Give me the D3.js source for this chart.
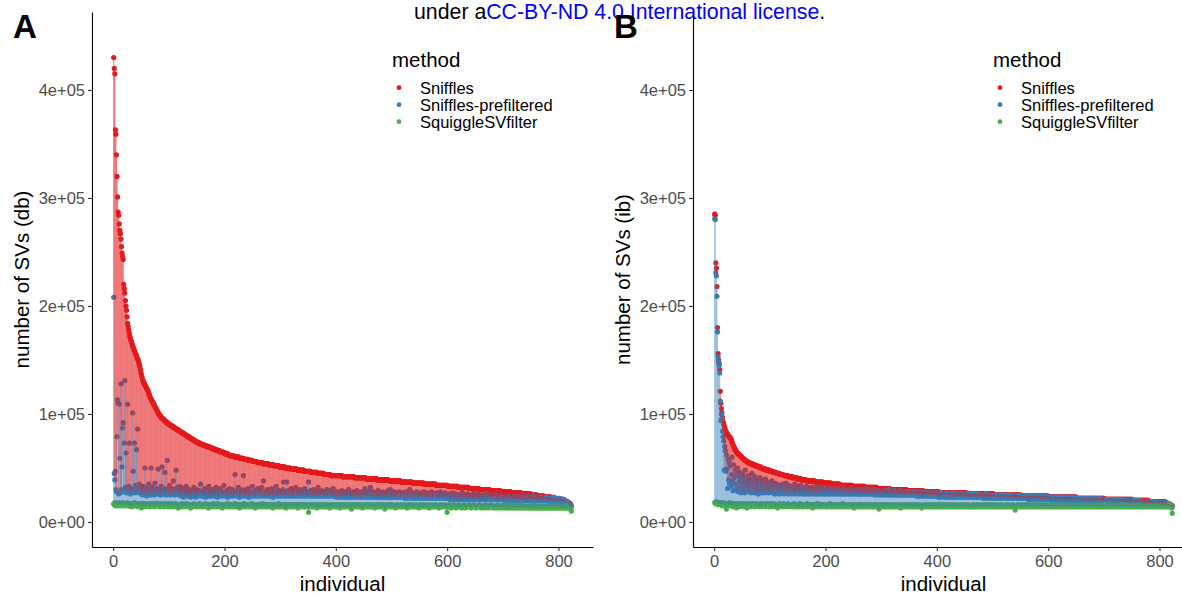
<!DOCTYPE html>
<html>
<head>
<meta charset="utf-8">
<script src="https://cdn.jsdelivr.net/npm/d3@7"></script>
<style>
  body { margin: 0; background: #fff; }
  svg { display: block; }
  text { font-family: "Liberation Sans", Arial, Helvetica, sans-serif; }
</style>
</head>
<body>
<svg id="chart" width="1182" height="597"></svg>
<script>
// ************************************************************************************************** //
// Data (number of SVs per individual, in thousands; individual = position in the array, starting at 1)

var methods = ['Sniffles', 'Sniffles-prefiltered', 'SquiggleSVfilter'];
var methodColors = ['#E41A1C', '#377EB8', '#4DAF4A'];
var yTicks = [0, 100000, 200000, 300000, 400000];
var yTickLabels = ['0e+00', '1e+05', '2e+05', '3e+05', '4e+05'];
var xTicks = [0, 200, 400, 600, 800];

// panel A (db)
var snifflesDb = [
430,420,415,363,359,340,320,301,287,284,276,270,267,262,255,249,246,243,220,216,
212,205,200,196,190,184,181,178,175,172,170,168,167,165,163,162,160,159,158,156,
155,154,152,151,150,148,146,144,141,138,136,134,132,130,129,128,127,126,125,124,
123,122,121,119,118,116,115,114,113,112,111,110,109,108,107,106,105,104,103,102,
101,100,99,99,98,97,97,96,96,95,95,94,94,93,93,92,92,91,91,91,
90,90,90,89,89,89,88,88,88,87,87,87,86,86,86,85,85,85,84,84,
84,83,83,83,82,82,82,81,81,81,80,80,80,79,79,79,78,78,78,77,
77,77,76,76,76,75,75,75,74,74,74,74,73,73,73,73,72,72,72,72,
72,71,71,71,71,71,70,70,70,70,70,69,69,69,69,69,68,68,68,68,
68,67,67,67,67,67,66,66,66,66,66,65,65,65,65,65,64,64,64,64,
64,63,63,63,63,63,62,62,62,62,61,61,61,61,61,61,61,61,60,60,
60,60,60,60,60,60,59,59,59,59,59,59,59,59,58,58,58,58,58,58,
58,58,57,57,57,57,57,57,57,57,56,56,56,56,56,56,56,56,55,55,
55,55,55,55,55,55,55,55,54,54,54,54,54,54,54,54,54,54,53,53,
53,53,53,53,53,53,53,53,52,52,52,52,52,52,52,52,52,52,51,51,
51,51,51,51,51,51,51,51,50,50,50,50,50,50,50,50,50,50,49,49,
49,49,49,49,49,49,49,49,49,49,48,48,48,48,48,48,48,48,48,48,
48,48,47,47,47,47,47,47,47,47,47,47,47,47,46,46,46,46,46,46,
46,46,46,46,46,46,45,45,45,45,45,45,45,45,45,45,45,45,44,44,
44,44,44,44,44,44,44,44,44,44,43,43,43,43,43,43,43,43,43,43,
43,43,43,43,43,43,43,43,43,43,43,42,42,42,42,42,42,42,42,42,
42,42,42,42,42,42,42,42,42,42,42,42,41,41,41,41,41,41,41,41,
41,41,41,41,41,41,41,41,41,41,41,41,41,40,40,40,40,40,40,40,
40,40,40,40,40,40,40,40,40,40,40,40,40,40,39,39,39,39,39,39,
39,39,39,39,39,39,39,39,39,39,39,39,39,39,39,38,38,38,38,38,
38,38,38,38,38,38,38,38,38,38,38,38,38,38,38,38,37,37,37,37,
37,37,37,37,37,37,37,37,37,37,37,37,37,37,37,37,37,36,36,36,
36,36,36,36,36,36,36,36,36,36,36,36,36,36,36,36,36,36,35,35,
35,35,35,35,35,35,35,35,35,35,35,35,35,35,35,35,35,35,35,34,
34,34,34,34,34,34,34,34,34,34,34,34,34,34,34,34,34,34,34,34,
33,33,33,33,33,33,33,33,33,33,33,33,33,33,33,33,33,33,33,32,
32,32,32,32,32,32,32,32,32,32,32,32,32,32,32,32,32,32,31,31,
31,31,31,31,31,31,31,31,31,31,31,31,31,31,31,31,31,30,30,30,
30,30,30,30,30,30,30,30,30,30,30,30,30,30,30,30,29,29,29,29,
29,29,29,29,29,29,29,29,29,29,29,29,29,29,29,28,28,28,28,28,
28,28,28,28,28,28,28,28,28,28,28,28,28,28,27,27,27,27,27,27,
27,27,27,27,27,27,27,27,27,27,27,27,27,26,26,26,26,26,26,26,
26,26,26,26,26,26,26,26,26,26,25,25,25,25,25,25,25,25,25,25,
25,25,24,24,24,24,24,24,24,24,24,24,24,24,23,23,23,23,23,23,
23,23,23,23,23,23,22,22,22,22,22,22,22,22,22,22,22,21,21,21,
21,21,21,21,21,21,21,21,21,20,20,20,19,19,19,19,18,18,18,17,
17,16,15
];
var prefilteredDb = [
208,45,39,47,30,28,79,113,110,26,109,59,27,128,30,51,87,92,28,73,
131,32,64,27,30,109,29,33,73,28,26,31,29,27,101,47,30,73,28,34,
27,67,29,86,31,28,35,27,30,26,27,29,25,33,28,26,50,30,27,24,
31,26,28,35,27,29,25,50,28,32,26,30,27,25,36,28,26,31,29,27,
49,26,30,28,25,33,27,51,29,26,28,31,46,27,25,29,57,30,26,28,
34,27,25,29,31,26,28,38,27,30,25,29,48,27,32,26,28,30,25,33,
26,24,29,27,25,31,23,26,28,24,33,26,25,27,24,30,26,28,23,27,
25,29,26,24,32,27,25,23,28,26,30,24,27,25,29,26,35,24,27,25,
28,24,26,31,25,23,27,26,29,24,25,33,26,24,28,25,27,30,24,26,
25,28,24,27,32,26,23,25,29,26,24,27,31,25,26,24,28,25,34,26,
24,27,25,29,26,23,28,25,31,24,26,27,25,30,24,26,28,25,44,27,
25,24,29,26,32,25,23,27,26,28,24,25,30,43,26,24,27,25,29,24,
26,31,25,23,27,26,24,28,25,33,26,24,27,25,29,24,26,28,25,31,
24,26,27,25,29,24,32,26,25,38,24,27,25,28,24,26,30,25,24,27,
25,29,24,26,31,25,23,27,26,24,28,25,33,24,26,25,29,24,27,25,
24,28,25,26,30,37,24,25,27,24,26,37,25,29,24,26,28,25,24,31,
25,24,27,26,24,29,25,32,24,26,25,28,24,27,25,30,24,26,25,28,
24,27,25,31,24,26,24,28,25,27,37,24,26,25,29,24,27,25,24,30,
25,24,27,26,24,28,25,32,24,26,24,27,25,29,24,26,25,28,24,25,
27,24,26,30,24,25,28,24,26,25,29,24,27,25,31,24,26,25,28,24,
23,26,24,28,23,25,24,27,23,25,29,24,23,26,24,28,23,25,24,27,
23,25,30,24,23,26,24,23,27,25,24,28,23,25,24,26,23,29,24,25,
23,27,24,25,23,28,24,23,26,24,25,31,23,24,27,23,25,24,28,23,
25,32,24,23,26,24,28,23,25,24,27,23,24,26,23,29,24,23,25,27,
23,24,26,23,28,24,23,25,27,23,24,26,23,29,24,23,25,30,23,24,
26,23,24,28,23,25,23,27,24,23,26,23,25,28,23,24,23,26,24,27,
23,24,26,22,25,28,23,24,22,26,23,25,30,23,22,24,27,23,25,22,
24,26,22,23,28,24,22,25,23,27,22,24,23,26,22,25,23,28,22,24,
23,25,22,27,23,24,22,26,23,22,25,28,22,23,24,22,26,23,25,22,
24,27,22,23,25,22,24,28,22,23,26,22,24,23,22,27,23,22,25,23,
22,24,26,21,23,22,25,21,23,27,22,21,24,22,23,26,21,22,24,23,
21,25,22,23,21,24,28,22,21,23,22,25,21,24,22,21,26,22,23,21,
24,22,21,25,23,21,22,27,21,23,22,24,21,22,26,21,23,22,21,24,
22,21,25,22,23,21,24,22,21,27,22,21,23,22,24,21,22,25,21,23,
21,22,24,21,23,21,26,22,21,23,21,22,25,21,22,21,24,22,21,23,
21,20,22,24,21,22,20,23,21,25,20,22,21,23,20,21,24,20,22,21,
20,23,21,22,20,24,21,20,22,21,23,20,21,25,20,22,21,20,23,21,
20,22,21,24,20,21,22,20,23,21,20,22,20,21,24,20,21,22,20,21,
23,20,21,20,22,20,21,23,20,22,20,21,20,22,21,20,23,20,21,20,
22,20,21,19,20,22,20,21,19,20,23,20,19,21,20,22,19,20,21,19,
20,22,19,20,19,21,20,19,20,19,20,19,19,18,18,19,18,17,17,16,
15,15,14
];
var squiggleDb = [
17,16,18,15,17,16,17,15,16,18,16,17,15,16,17,16,18,15,17,16,
16,17,15,16,18,16,15,17,16,17,15,16,14,17,16,15,17,16,18,15,
16,17,15,16,14,17,16,15,16,17,13,16,15,17,16,15,16,14,17,16,
15,16,17,15,16,14,16,17,15,16,15,17,16,14,16,15,17,16,15,16,
17,15,16,14,16,15,17,16,15,16,14,16,17,15,16,15,16,14,17,15,
16,15,14,16,17,15,16,14,15,16,15,17,14,16,15,16,13,15,16,15,
14,16,15,17,15,14,16,15,16,14,15,17,15,16,14,15,16,15,13,16,
15,16,14,15,17,15,16,14,15,16,15,14,16,15,17,14,15,16,15,14,
16,15,14,16,15,17,15,14,16,15,13,16,15,14,16,15,16,14,15,17,
15,14,16,15,16,14,15,17,15,14,16,15,14,16,15,13,16,15,14,16,
15,16,14,15,17,15,14,16,15,14,16,15,16,14,15,16,14,15,17,15,
14,16,15,14,16,15,13,15,16,14,15,16,14,15,17,14,15,16,15,14,
16,15,14,16,15,14,16,15,17,14,15,16,14,15,13,16,15,14,16,15,
14,16,15,14,16,15,14,17,15,14,16,15,14,15,16,14,15,16,14,15,
16,14,15,16,14,15,13,16,15,14,16,15,14,16,15,14,17,15,14,16,
15,14,16,15,14,15,16,14,15,13,16,15,14,16,15,14,15,16,14,15,
16,14,15,14,16,15,14,16,15,14,15,13,16,15,14,16,15,14,15,16,
14,15,16,14,15,14,16,15,14,15,9,15,14,16,15,14,15,14,16,15,
14,15,16,14,15,13,15,16,14,15,14,16,15,14,15,14,16,15,14,15,
16,14,15,14,16,15,14,15,13,16,15,14,15,14,16,15,14,15,16,14,
15,14,16,15,14,15,13,15,16,14,15,14,16,15,14,15,14,16,15,14,
15,14,15,16,14,15,14,12,15,16,14,15,14,15,16,14,15,14,15,16,
14,15,14,16,15,14,15,13,15,14,16,15,14,15,14,16,15,14,15,14,
16,15,14,15,14,16,15,14,15,13,15,14,16,15,14,15,14,15,16,14,
15,14,15,16,14,15,14,12,15,14,16,15,14,15,14,15,16,14,15,14,
15,16,14,15,14,15,13,15,14,16,15,14,15,14,15,16,14,15,14,15,
14,15,16,14,15,14,15,13,14,15,16,14,15,14,15,14,16,15,14,15,
14,15,14,16,15,14,15,14,13,15,14,16,15,14,15,14,15,16,14,15,
14,15,14,15,16,14,15,13,14,15,14,16,15,14,15,14,15,14,16,15,
14,15,14,15,13,15,14,16,15,14,15,14,15,14,16,15,14,15,14,9,
14,15,14,16,15,14,13,15,14,15,14,16,15,14,15,13,14,15,14,15,
16,14,15,14,15,13,14,15,14,16,15,14,13,15,14,15,14,15,16,14,
15,14,13,15,14,15,14,16,15,14,15,13,14,15,14,15,14,16,15,14,
13,15,14,15,14,15,13,14,16,15,14,15,14,13,15,14,15,14,16,14,
15,14,13,15,14,15,14,13,15,14,16,14,15,13,14,15,14,15,13,14,
15,14,16,13,14,15,14,13,15,14,15,13,14,15,14,16,13,14,15,14,
13,15,14,13,15,14,15,13,14,15,13,14,16,14,13,15,14,13,15,14,
14,13,15,14,13,15,14,13,14,15,13,14,15,13,14,16,13,14,15,13,
14,15,13,14,13,15,14,13,14,15,13,14,13,15,14,13,14,15,13,14,
13,15,14,13,14,13,15,14,13,14,15,13,14,13,15,14,13,14,13,15,
14,13,14,15,13,14,13,14,15,13,14,13,14,13,15,14,13,14,13,14,
13,12,10
];

// panel B (ib)
var snifflesIb = [
285,284,240,235,218,180,156,150,147,141,121,110,105,101,97,93,91,89,87,85,
84,83,82,81,80,80,79,78,78,77,76,74,73,71,70,69,68,67,66,65,
64,64,63,63,62,62,61,61,60,60,59,59,58,58,57,57,57,56,56,56,
55,55,55,55,54,54,54,54,53,53,53,53,53,52,52,52,52,52,51,51,
51,51,51,50,50,50,50,49,49,49,49,49,49,48,48,48,48,48,48,47,
47,47,47,47,47,46,46,46,46,46,46,45,45,45,45,45,45,44,44,44,
44,44,44,44,43,43,43,43,43,43,43,43,42,42,42,42,42,42,42,42,
41,41,41,41,41,41,41,41,40,40,40,40,40,40,40,40,39,39,39,39,
39,39,39,39,39,38,38,38,38,38,38,38,38,38,38,38,38,38,38,38,
37,37,37,37,37,37,37,37,37,37,37,37,37,37,37,36,36,36,36,36,
36,36,36,36,36,36,36,36,36,36,35,35,35,35,35,35,35,35,35,35,
35,35,35,35,35,34,34,34,34,34,34,34,34,34,34,34,34,34,34,34,
34,34,34,34,34,34,34,33,33,33,33,33,33,33,33,33,33,33,33,33,
33,33,33,33,33,33,33,33,33,33,32,32,32,32,32,32,32,32,32,32,
32,32,32,32,32,32,32,32,32,32,32,32,31,31,31,31,31,31,31,31,
31,31,31,31,31,31,31,31,31,31,31,31,31,31,31,30,30,30,30,30,
30,30,30,30,30,30,30,30,30,30,30,30,30,30,30,30,30,30,30,30,
30,30,30,30,30,29,29,29,29,29,29,29,29,29,29,29,29,29,29,29,
29,29,29,29,29,29,29,29,29,29,29,29,29,29,29,28,28,28,28,28,
28,28,28,28,28,28,28,28,28,28,28,28,28,28,28,28,28,28,28,28,
28,28,28,28,27,27,27,27,27,27,27,27,27,27,27,27,27,27,27,27,
27,27,27,27,27,27,27,27,27,27,27,27,27,27,27,27,27,27,27,27,
27,27,27,27,27,27,27,27,27,27,27,27,27,26,26,26,26,26,26,26,
26,26,26,26,26,26,26,26,26,26,26,26,26,26,26,26,26,26,26,26,
26,26,26,26,26,26,26,26,26,26,26,26,26,26,26,26,26,26,26,26,
26,26,25,25,25,25,25,25,25,25,25,25,25,25,25,25,25,25,25,25,
25,25,25,25,25,25,25,25,25,25,25,25,25,25,25,25,25,25,25,25,
25,25,25,25,25,25,25,25,25,25,25,24,24,24,24,24,24,24,24,24,
24,24,24,24,24,24,24,24,24,24,24,24,24,24,24,24,24,24,24,24,
24,24,24,24,24,24,24,24,24,24,24,24,24,24,24,24,24,24,24,24,
23,23,23,23,23,23,23,23,23,23,23,23,23,23,23,23,23,23,23,23,
23,23,23,23,23,23,23,23,23,23,23,23,23,23,23,23,23,23,23,23,
23,23,23,23,23,23,23,23,23,23,22,22,22,22,22,22,22,22,22,22,
22,22,22,22,22,22,22,22,22,22,22,22,22,22,22,22,22,22,22,22,
22,22,22,22,22,22,22,22,22,22,22,22,22,22,22,22,22,22,22,22,
21,21,21,21,21,21,21,21,21,21,21,21,21,21,21,21,21,21,21,21,
21,21,21,21,21,21,21,21,21,21,21,21,21,21,21,21,21,21,21,21,
21,21,21,21,21,21,21,21,21,21,20,20,20,20,20,20,20,20,20,20,
20,20,20,20,20,20,20,20,20,20,20,20,20,20,20,20,20,20,20,20,
19,19,19,19,19,19,19,19,19,19,19,19,19,19,19,19,19,19,19,19,
19,19,19,19,19,19,19,19,19,19,18,18,18,17,17,17,17,16,16,16,
15,15,15
];
var prefilteredIb = [
281,280,231,228,209,176,153,148,145,138,112,94,100,96,84,79,75,48,70,66,
47,62,49,31,58,39,55,36,52,33,44,60,38,29,53,41,35,48,30,45,
34,50,28,42,37,31,46,27,39,33,44,29,36,41,27,48,32,38,30,35,
43,28,36,31,40,27,34,45,29,33,38,27,42,31,35,28,39,30,26,37,
32,41,28,35,30,27,38,33,29,36,27,40,31,28,34,30,37,27,32,29,
35,28,31,38,27,33,29,36,26,32,30,28,35,27,31,34,26,29,33,28,
31,27,35,29,26,33,28,30,36,27,29,32,26,34,28,30,27,33,29,26,
32,28,30,27,35,29,26,31,28,33,27,30,26,29,34,27,28,31,26,30,
28,32,26,29,27,33,28,26,30,27,31,26,29,28,32,26,27,30,28,26,
31,27,29,26,33,28,26,30,27,28,32,26,29,27,31,26,28,30,26,29,
27,31,26,28,30,26,29,27,32,26,28,27,30,26,29,31,26,28,27,30,
26,29,27,31,26,28,30,26,27,29,26,32,28,26,27,30,26,29,28,26,
30,27,26,29,26,31,28,26,27,30,26,28,27,29,26,31,27,26,28,26,
29,26,27,30,26,28,26,29,27,26,31,26,28,27,26,30,26,27,29,26,
27,30,26,28,26,27,29,25,26,30,27,26,28,25,29,26,27,25,28,26,
25,28,26,27,25,29,26,25,28,26,27,25,30,26,25,27,26,28,25,26,
27,25,26,29,25,27,26,25,28,25,26,27,25,29,26,25,27,25,26,28,
25,26,27,25,28,25,26,25,27,25,28,26,25,27,25,26,25,28,25,26,
27,25,24,26,28,25,24,26,25,27,24,25,28,24,26,25,24,27,25,24,
26,25,27,24,25,26,24,27,25,24,26,25,24,27,25,24,26,24,25,27,
24,25,23,26,24,25,27,23,24,26,24,25,23,26,24,25,27,23,24,25,
26,23,24,25,23,26,24,23,25,27,23,24,25,23,26,24,23,25,24,26,
23,24,26,23,25,24,23,26,24,23,25,24,26,23,24,25,23,24,26,23,
24,25,23,24,26,23,24,25,23,24,25,23,26,24,23,24,25,23,24,23,
25,23,24,22,25,23,24,26,23,22,24,25,23,24,22,25,23,24,23,25,
22,24,23,22,25,23,24,22,23,25,22,24,23,22,24,23,25,22,23,24,
22,23,25,22,24,23,22,24,23,22,25,23,22,24,23,22,23,24,22,23,
24,22,23,22,24,23,22,25,22,23,22,24,23,22,23,24,22,23,22,24,
22,23,21,24,22,23,22,21,23,22,24,22,21,23,22,23,21,22,24,22,
23,21,22,23,22,21,24,22,23,21,22,23,22,21,23,22,24,21,22,23,
21,22,23,21,22,20,23,22,21,22,23,21,20,22,21,23,22,21,20,22,
23,21,22,20,21,23,22,21,20,22,21,23,21,20,22,21,22,20,21,23,
21,20,22,21,23,20,21,22,20,21,22,20,21,22,20,21,20,22,21,20,
21,22,20,21,20,22,21,20,19,21,22,20,21,20,19,21,22,20,21,20,
19,21,20,22,20,19,21,20,21,19,20,22,20,19,21,20,19,21,20,19,
20,21,19,20,19,21,20,19,20,21,19,20,19,21,20,19,20,19,21,20,
19,20,18,20,19,21,19,20,18,19,20,19,21,19,18,20,19,20,18,19,
20,19,18,20,19,18,19,20,18,19,18,19,20,18,19,18,19,20,18,19,
18,19,18,20,18,19,18,17,19,18,19,18,17,19,18,19,17,18,19,18,
17,18,19,17,18,17,18,19,17,18,17,18,17,19,18,17,18,17,18,17,
18,17,18,17,16,18,17,18,17,16,17,18,17,16,17,16,17,16,15,16,
15,14,14
];
var squiggleIb = [
18,17,19,18,17,18,16,17,18,17,16,18,17,15,16,17,18,16,15,17,
16,12,17,16,15,17,16,18,15,16,17,15,16,14,17,16,15,16,17,13,
16,17,15,16,14,16,17,15,16,15,17,16,14,16,15,17,16,15,13,16,
15,16,17,15,16,14,16,15,17,16,15,16,14,15,17,16,15,16,15,14,
16,15,17,16,14,15,16,15,17,16,15,14,16,15,16,17,15,16,14,15,
17,15,16,14,16,15,17,16,15,14,16,15,16,13,15,16,15,17,15,16,
15,16,14,15,17,16,15,16,14,15,16,15,17,15,14,16,15,16,15,14,
16,15,17,15,14,16,15,16,14,15,16,15,14,17,15,16,15,14,16,15,
14,16,15,16,15,14,17,15,16,14,15,16,15,14,16,15,13,16,15,14,
16,15,14,16,15,17,15,14,16,15,14,16,15,16,14,15,16,15,14,16,
15,14,16,15,14,16,15,17,15,14,15,16,14,15,16,15,14,16,15,14,
16,15,14,15,16,14,15,16,15,14,17,15,14,16,15,14,15,16,14,15,
16,14,15,16,15,14,16,15,14,15,13,16,15,14,16,15,14,15,16,14,
15,16,14,15,14,16,15,14,16,15,14,15,16,14,15,14,16,15,14,15,
16,14,15,14,16,15,14,15,16,14,15,14,16,15,14,12,15,14,16,15,
14,15,16,14,15,14,16,15,14,15,16,14,15,14,15,16,14,15,14,16,
15,14,15,16,14,15,14,16,15,14,15,14,16,15,13,15,14,15,16,14,
15,14,16,15,14,15,14,15,16,14,15,14,15,16,14,15,14,15,14,16,
15,14,15,14,16,15,14,15,14,16,15,14,13,15,14,15,14,16,15,14,
15,14,16,15,14,15,14,15,16,14,15,14,15,14,16,15,14,15,14,15,
16,14,15,14,15,16,14,15,14,15,14,16,15,14,15,14,15,16,14,15,
14,15,14,16,15,14,15,14,15,16,14,15,14,15,14,16,15,14,15,14,
15,14,16,15,14,15,14,15,14,16,15,14,15,14,15,16,14,15,14,15,
14,15,14,15,16,14,15,14,15,14,16,15,14,15,14,15,14,16,15,14,
15,14,15,14,16,15,14,15,14,15,14,16,15,14,15,14,15,16,14,15,
14,15,16,14,15,14,15,14,16,15,14,15,14,15,14,16,15,14,15,14,
15,14,15,16,14,15,14,15,14,16,15,14,15,14,15,14,16,15,14,15,
11,15,14,15,14,16,15,14,15,14,15,14,16,15,14,15,14,15,16,14,
15,14,15,14,16,15,14,15,14,15,14,16,15,14,15,14,15,16,14,15,
14,15,14,16,15,14,15,14,15,14,16,15,14,15,14,15,14,16,15,14,
15,14,15,14,16,15,14,15,14,15,14,16,15,14,15,14,15,14,16,15,
14,15,14,15,14,16,15,14,15,14,15,14,16,15,14,15,14,15,14,16,
15,14,15,14,15,14,16,15,14,15,14,15,14,16,15,14,15,14,15,14,
16,15,14,15,14,15,14,16,15,14,15,14,15,14,16,15,14,15,14,15,
14,16,15,14,15,14,15,14,16,15,14,15,14,15,14,16,15,14,15,14,
15,14,16,15,14,15,14,15,14,16,15,14,15,14,15,14,16,15,14,15,
14,15,14,16,15,14,15,14,15,14,16,15,14,15,14,15,14,16,15,14,
15,14,15,14,16,15,14,15,14,15,14,16,15,14,15,14,15,14,16,15,
14,15,14,15,14,16,15,14,15,14,15,14,16,15,14,15,14,15,14,16,
15,14,15,14,15,14,16,15,14,15,14,15,14,16,15,14,15,14,15,14,
15,14,16,15,14,15,14,15,14,16,15,14,15,14,15,14,16,15,14,15,
14,13,8
];

// ************************************************************************************************** //
// Setup

var width = 1182, height = 597;
var svg = d3.select('#chart');
var fontTick = 16.5, fontTitle = 20.5;

var panels = [
  { label: 'A', left: 92, yTitle: 'number of SVs (db)', series: [snifflesDb, prefilteredDb, squiggleDb] },
  { label: 'B', left: 693, yTitle: 'number of SVs (ib)', series: [snifflesIb, prefilteredIb, squiggleIb] }
];

// header line of the preprint page
var head = svg.append('text').attr('x', 414).attr('y', 19).style('font-size', '21.3px').attr('fill', '#000');
head.append('tspan').text('under a');
head.append('tspan').attr('fill', '#0000FF').text('CC-BY-ND 4.0 International license');
head.append('tspan').text('.');

panels.forEach(drawPanel);

// ************************************************************************************************** //
// Draw one panel

function drawPanel(p){
  var x = d3.scaleLinear().domain([-38, 862]).range([p.left, p.left + 501]);
  var y = d3.scaleLinear().domain([-23150, 472200]).range([547, 12]);

  var n = d3.min(p.series, (s) => { return s.length });
  var rows = d3.range(n).map((i) => {
    return { ind: i + 1, sn: p.series[0][i]*1000, pf: p.series[1][i]*1000, sq: p.series[2][i]*1000 };
  });

  var g = svg.append('g');

  // points, in method order
  ['sn', 'pf', 'sq'].forEach((k, m) => {
    g.append('g').selectAll('circle').data(rows).join('circle')
      .attr('cx', (d) => { return x(d.ind) })
      .attr('cy', (d) => { return y(d[k]) })
      .attr('r', 2.6)
      .attr('fill', methodColors[m]);
  });

  // connecting lines per individual (Sniffles -> prefiltered, prefiltered -> SquiggleSVfilter)
  g.append('g').attr('opacity', 0.6).selectAll('line').data(rows).join('line')
    .attr('x1', (d) => { return x(d.ind) }).attr('x2', (d) => { return x(d.ind) })
    .attr('y1', (d) => { return y(d.sn) }).attr('y2', (d) => { return y(d.pf) })
    .attr('stroke', methodColors[0]).attr('stroke-width', 1);

  g.append('g').attr('opacity', 0.5).selectAll('line').data(rows).join('line')
    .attr('x1', (d) => { return x(d.ind) }).attr('x2', (d) => { return x(d.ind) })
    .attr('y1', (d) => { return y(d.pf) }).attr('y2', (d) => { return y(d.sq) })
    .attr('stroke', methodColors[1]).attr('stroke-width', 1);

  // axes
  var yAxis = g.append('g').attr('transform', 'translate(' + p.left + ',0)')
    .call(d3.axisLeft(y).tickValues(yTicks).tickFormat((d, i) => { return yTickLabels[i] }).tickSize(4).tickSizeOuter(0).tickPadding(3));
  var xAxis = g.append('g').attr('transform', 'translate(0,547)')
    .call(d3.axisBottom(x).tickValues(xTicks).tickFormat(d3.format('d')).tickSize(4).tickSizeOuter(0).tickPadding(4));

  [yAxis, xAxis].forEach((a) => {
    a.select('.domain').attr('stroke', '#000').attr('stroke-width', 1.1);
    a.selectAll('.tick line').attr('stroke', '#333').attr('stroke-width', 1.1);
    a.selectAll('.tick text').attr('fill', '#4D4D4D').style('font-size', fontTick + 'px').style('font-family', '"Liberation Sans", Arial, sans-serif');
  });

  // axis titles
  g.append('text').attr('transform', 'translate(' + (p.left - 63) + ',279.5) rotate(-90)')
    .attr('text-anchor', 'middle').style('font-size', fontTitle + 'px').text(p.yTitle);
  g.append('text').attr('x', p.left + 250.5).attr('y', 591)
    .attr('text-anchor', 'middle').style('font-size', fontTitle + 'px').text('individual');

  // panel tag
  g.append('text').attr('x', p.left - 79).attr('y', 38)
    .style('font-size', '33px').style('font-weight', 'bold').text(p.label);

  // legend
  var lg = g.append('g').attr('transform', 'translate(' + (p.left + 300) + ',0)');
  lg.append('text').attr('x', 0).attr('y', 67).style('font-size', fontTitle + 'px').text('method');
  methods.forEach((mname, m) => {
    var cy = 87.7 + 17*m;
    lg.append('circle').attr('cx', 7).attr('cy', cy).attr('r', 2.4).attr('fill', methodColors[m]);
    lg.append('text').attr('x', 28).attr('y', cy).attr('dy', '0.36em').style('font-size', fontTick + 'px').text(mname);
  });
}
</script>
</body>
</html>
